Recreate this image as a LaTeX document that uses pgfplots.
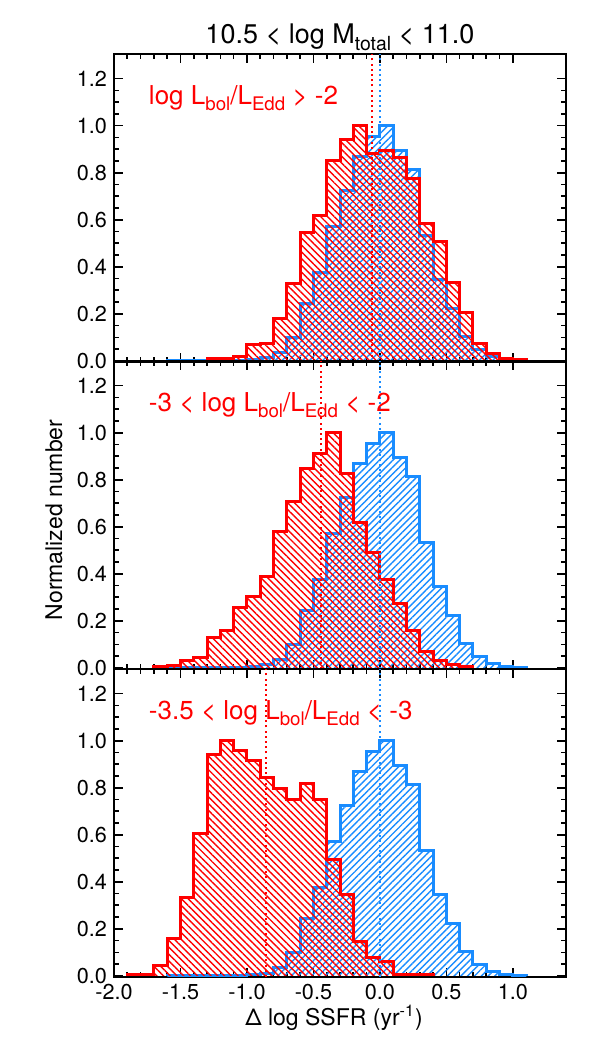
\documentclass[border=0pt]{standalone}
\usepackage{fontspec}
\setmainfont{TeX Gyre Heros}
\usepackage{graphicx}
\usepackage{pgfplots}
\pgfplotsset{compat=1.18}
\usepackage{pgfplotstable}
\usetikzlibrary{patterns.meta}

\definecolor{hred}{RGB}{255,0,0}
\definecolor{hblue}{RGB}{25,140,255}

% lowered, reduced subscript in the style of the plot annotations
\newcommand\dn[1]{\raisebox{-0.45ex}{\scalebox{0.72}{#1}}}

% histograms: left bin edge, normalized count (first and last rows close the outline)
\pgfplotstableread{
x y
-1.6 0
-1.6 0.002
-1.5 0.002
-1.4 0.002
-1.3 0.002
-1.2 0.003
-1.1 0.003
-1.0 0.005
-0.9 0.012
-0.8 0.035
-0.7 0.100
-0.6 0.245
-0.5 0.377
-0.4 0.571
-0.3 0.726
-0.2 0.867
-0.1 0.955
0.0 1.000
0.1 0.895
0.2 0.812
0.3 0.535
0.4 0.345
0.5 0.222
0.6 0.105
0.7 0.048
0.8 0.018
0.9 0.006
1.0 0.002
1.1 0
}\control

\pgfplotstableread{
x y
-1.3 0
-1.3 0.010
-1.2 0.010
-1.1 0.020
-1.0 0.070
-0.9 0.075
-0.8 0.180
-0.7 0.330
-0.6 0.545
-0.5 0.617
-0.4 0.852
-0.3 0.940
-0.2 1.000
-0.1 0.883
0.0 0.894
0.1 0.866
0.2 0.775
0.3 0.585
0.4 0.507
0.5 0.335
0.6 0.204
0.7 0.075
0.8 0.030
0.9 0.010
1.0 0.004
1.1 0
}\agnhigh

\pgfplotstableread{
x y
-1.7 0
-1.7 0.005
-1.6 0.010
-1.5 0.030
-1.4 0.045
-1.3 0.130
-1.2 0.160
-1.1 0.257
-1.0 0.304
-0.9 0.389
-0.8 0.579
-0.7 0.707
-0.6 0.846
-0.5 0.911
-0.4 1.000
-0.3 0.826
-0.2 0.617
-0.1 0.489
0.0 0.374
0.1 0.274
0.2 0.160
0.3 0.071
0.4 0.031
0.5 0.014
0.6 0.007
0.7 0
}\agnmid

\pgfplotstableread{
x y
-1.9 0
-1.9 0.004
-1.8 0.004
-1.7 0.042
-1.6 0.160
-1.5 0.333
-1.4 0.606
-1.3 0.943
-1.2 1.000
-1.1 0.960
-1.0 0.915
-0.9 0.844
-0.8 0.797
-0.7 0.748
-0.6 0.816
-0.5 0.748
-0.4 0.493
-0.3 0.344
-0.2 0.146
-0.1 0.079
0.0 0.061
0.1 0.005
0.2 0.005
0.3 0.005
0.4 0
}\agnlow

\tikzset{
  tag/.style={anchor=base west, text=hred, font=\fontsize{13}{15}\selectfont},
  median/.style={line width=1pt, dash pattern=on 1pt off 1.6pt},
}

\pgfplotsset{
  panel/.style={
    scale only axis, width=226pt, height=154pt,
    xmin=-2, xmax=1.4, ymin=-0.005, ymax=1.305,
    xtick={-2,-1.5,-1,-0.5,0,0.5,1}, minor x tick num=4,
    ytick={0,0.2,0.4,0.6,0.8,1.0,1.2}, minor y tick num=3,
    tick align=inside,
    major tick length=4.5pt, minor tick length=2.5pt,
    every tick/.style={black, line width=0.8pt},
    axis line style={line width=1pt},
    /pgf/number format/assume math mode=true,
    /pgf/number format/fixed,
    /pgf/number format/fixed zerofill,
    /pgf/number format/precision=1,
    tick label style={font=\fontsize{10.8}{13}\selectfont},
    xticklabels={},
    clip=false,
  },
  hist/.style={const plot, line width=1.5pt, line join=miter},
  ctrl/.style={hist, draw=hblue,
    pattern={Lines[angle=45, distance=2.4pt, line width=0.7pt]}, pattern color=hblue},
  agn/.style={hist, draw=hred,
    pattern={Lines[angle=-45, distance=2.4pt, line width=0.7pt]}, pattern color=hred},
}

\begin{document}
\begin{tikzpicture}
\path[use as bounding box] (0,0) rectangle (300pt,525pt);

% top panel
\begin{axis}[panel, at={(57pt,344pt)}, anchor=south west]
  \addplot[ctrl] table[x=x,y=y] {\control};
  \addplot[agn] table[x=x,y=y] {\agnhigh};
  \addplot[median, hred] coordinates {(-0.06,-0.005) (-0.06,1.305)};
  \addplot[median, hblue] coordinates {(0,-0.005) (0,1.305)};
  \node[tag] at (axis cs:-1.79,1.09) {log L\dn{bol}/L\dn{Edd} > -2};
\end{axis}

% middle panel
\begin{axis}[panel, at={(57pt,190.5pt)}, anchor=south west]
  \addplot[ctrl] table[x=x,y=y] {\control};
  \addplot[agn] table[x=x,y=y] {\agnmid};
  \addplot[median, hred] coordinates {(-0.445,-0.005) (-0.445,1.305)};
  \addplot[median, hblue] coordinates {(0,-0.005) (0,1.305)};
  \node[tag] at (axis cs:-1.79,1.09) {-3 < log L\dn{bol}/L\dn{Edd} < -2};
\end{axis}

% bottom panel
\begin{axis}[panel, at={(57pt,36.5pt)}, anchor=south west,
    xticklabels={-2.0,-1.5,-1.0,-0.5,0.0,0.5,1.0}]
  \addplot[ctrl] table[x=x,y=y] {\control};
  \addplot[agn] table[x=x,y=y] {\agnlow};
  \addplot[median, hred] coordinates {(-0.86,-0.005) (-0.86,1.305)};
  \addplot[median, hblue] coordinates {(0,-0.005) (0,1.305)};
  \node[tag] at (axis cs:-1.79,1.09) {-3.5 < log L\dn{bol}/L\dn{Edd} < -3};
\end{axis}

\node[anchor=base, font=\fontsize{13.5}{16}\selectfont] at (170pt,503pt)
  {10.5 < log M\dn{total} < 11.0};
\node[anchor=base, font=\fontsize{11.5}{14}\selectfont] at (167pt,12.5pt)
  {Δ log SSFR (yr\textsuperscript{-1})};
\node[rotate=90, anchor=base, font=\fontsize{11.5}{14}\selectfont] at (31pt,265pt)
  {Normalized number};
\end{tikzpicture}
\end{document}
